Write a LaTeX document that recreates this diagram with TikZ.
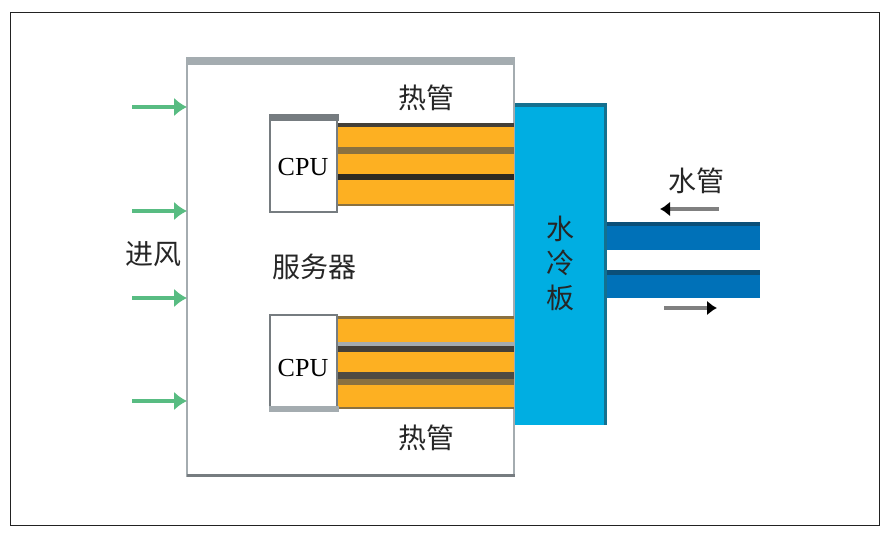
\documentclass[tikz,border=0pt]{standalone}
\usepackage{fontspec}
\setmainfont{Liberation Serif}
\newfontfamily\cjk{Noto Sans CJK SC}
\usetikzlibrary{arrows.meta, positioning, calc}
\definecolor{frameblack}{HTML}{222222}
\definecolor{edgegray}{HTML}{A4ACB0}
\definecolor{darkgray}{HTML}{767C80}
\definecolor{pipeorange}{HTML}{FDB022}
\definecolor{pipebrown}{HTML}{8A7140}
\definecolor{pipedark}{HTML}{2E2A22}
\definecolor{platecyan}{HTML}{00AEE2}
\definecolor{plateedge}{HTML}{14708F}
\definecolor{tubeblue}{HTML}{0071B8}
\definecolor{tubeedge}{HTML}{0B4F78}
\definecolor{airgreen}{HTML}{58BC82}

\begin{document}
\begin{tikzpicture}[
  x=1pt, y=-1pt,
  box/.style={anchor=north west, inner sep=0pt, outer sep=0pt},
  server/.style={box, draw=edgegray, line width=2.5pt, fill=white, minimum width=327pt, minimum height=416pt},
  cpu/.style={box, draw=darkgray, line width=2.5pt, fill=white, minimum width=67pt, minimum height=96pt},
  plate/.style={box, fill=platecyan, minimum width=91pt, minimum height=320pt},
  tube/.style={box, fill=tubeblue, minimum width=153pt, minimum height=28pt},
  lbl/.style={inner sep=0pt, font=\fontsize{28}{28}\cjk, text=black!85},
  air/.style={-{Latex[length=13pt,width=19pt]}, airgreen, line width=4.5pt},
  water/.style={-{Latex[length=10pt,width=15pt,color=black]}, black!50, line width=4pt}
]
\useasboundingbox (0,0) rectangle (889,536);
\draw[frameblack, line width=1pt] (10,12) rectangle (879,525);

% server case
\node[server] (srv) at (187,60) {};
\fill[edgegray] (186,57) rectangle (515,65);
\fill[darkgray] (187,473.5) rectangle (515,477);

% heat pipes, upper group
\fill[pipedark!90] (338,123) rectangle (514,127);
\fill[pipeorange] (338,127) rectangle (514,147);
\fill[pipebrown] (338,147) rectangle (514,154);
\fill[pipeorange] (338,154) rectangle (514,174);
\fill[pipedark] (338,174) rectangle (514,180);
\fill[pipeorange] (338,180) rectangle (514,206);
\fill[pipebrown] (338,204) rectangle (514,206);

% heat pipes, lower group
\fill[pipebrown] (338,316) rectangle (514,319);
\fill[pipeorange] (338,319) rectangle (514,342);
\fill[edgegray] (338,342) rectangle (514,346);
\fill[pipedark!90] (338,346) rectangle (514,352);
\fill[pipeorange] (338,352) rectangle (514,372);
\fill[pipedark!85] (338,372) rectangle (514,379);
\fill[pipebrown] (338,379) rectangle (514,385);
\fill[pipeorange] (338,385) rectangle (514,407);
\fill[pipebrown] (338,407) rectangle (514,409);

% processors
\node[cpu] (cpua) at (270,116) {};
\fill[darkgray] (268.5,114) rectangle (338.5,121);
\node[cpu] (cpub) at (270,315) {};
\fill[edgegray] (268.5,406) rectangle (338.5,412);
\node (cpuatxt) at (303,167) {\fontsize{26}{26}\selectfont CPU};
\node (cpubtxt) at (303,368) {\fontsize{26}{26}\selectfont CPU};

% cold plate and water tubes
\node[plate] (cold) at (515,105) {};
\fill[plateedge] (515,103) rectangle (607,107);
\fill[plateedge] (604,103) rectangle (607,425);
\node[tube] (tubea) at (607,222) {};
\fill[tubeedge] (607,222) rectangle (760,226);
\node[tube] (tubeb) at (607,270) {};
\fill[tubeedge] (607,270) rectangle (760,275);

% air inlets
\coordinate (aira) at (132,107);
\coordinate (airb) at (132,211);
\coordinate (airc) at (132,298);
\coordinate (aird) at (132,401);
\draw[air] (aira) -- (aira -| srv.west);
\draw[air] (airb) -- (airb -| srv.west);
\draw[air] (airc) -- (airc -| srv.west);
\draw[air] (aird) -- (aird -| srv.west);

% water direction
\coordinate (wina) at (719,209);
\coordinate (winb) at (660,209);
\coordinate (wouta) at (664,308);
\coordinate (woutb) at (717,308);
\draw[water] (wina) -- (winb);
\draw[water] (wouta) -- (woutb);

% labels
\node[lbl] (hpa) at (426,98) {热管};
\node[lbl] (hpb) at (426,438) {热管};
\node[lbl] (srvtxt) at (314,267) {服务器};
\node[lbl] (intxt) at (153,254) {进风};
\node[lbl] (wtxt) at (696,181) {水管};
\node[lbl] (cpa) at (560,229) {水};
\node[lbl, below=8pt of cpa] (cpb) {冷};
\node[lbl, below=8pt of cpb] (cpc) {板};
\end{tikzpicture}
\end{document}
